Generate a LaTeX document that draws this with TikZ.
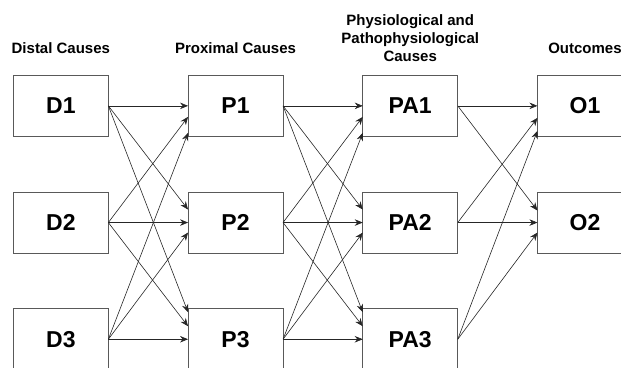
\documentclass[tikz,border=0pt]{standalone}
\usepackage{fontspec}
\setmainfont{Liberation Sans}
\usepackage{tikz}
\usetikzlibrary{arrows.meta,matrix,positioning}

\begin{document}
\begin{tikzpicture}[->,>={Stealth[length=8pt,width=6.5pt]}
  ,shorten >=0pt
  ,auto]
  \tikzstyle{stage}=[rectangle,draw=black!65,line width=0.7pt
  ,minimum width=95pt,minimum height=61pt,inner sep=0pt
  ,font=\bfseries\fontsize{23}{23}\selectfont]
  \tikzstyle{heading}=[inner sep=0pt,align=center
  ,font=\bfseries\fontsize{15}{18}\selectfont]
  \tikzstyle{link}=[black!85,line width=0.6pt]

  \useasboundingbox (0,0) rectangle (621pt,-367pt);

  \matrix (m) [anchor=north west,inner sep=0pt,outer sep=0pt
  ,row sep=55pt,column sep=79pt] at (13pt,-75pt)
  {
    % top row
    \node[stage](d1) {D1};	&
    \node[stage](p1) {P1};	&
    \node[stage](pa1) {PA1};	&
    \node[stage](o1) {O1};	\\
    % middle row
    \node[stage](d2) {D2};	&
    \node[stage](p2) {P2};	&
    \node[stage](pa2) {PA2};	&
    \node[stage](o2) {O2};	\\
    % bottom row, no outcome
    \node[stage](d3) {D3};	&
    \node[stage](p3) {P3};	&
    \node[stage](pa3) {PA3};	&
    \\
  };

  % column headings
  \node[heading,above=22pt of d1] (hd) {Distal Causes};
  \node[heading,above=22pt of p1] (hp) {Proximal Causes};
  \node[heading,above=14pt of pa1] (hpa) {Physiological and\\Pathophysiological\\Causes};
  \node[heading,above=22pt of o1] (ho) {Outcomes};

  % distal -> proximal
  \path[link]
  (d1.east) edge (p1.west)
  (d1.east) edge ([yshift=13pt]p2.west)
  (d1.east) edge ([yshift=27pt]p3.west)
  (d2.east) edge ([yshift=-11pt]p1.west)
  (d2.east) edge (p2.west)
  (d2.east) edge ([yshift=13pt]p3.west)
  (d3.east) edge ([yshift=-27pt]p1.west)
  (d3.east) edge ([yshift=-10pt]p2.west)
  (d3.east) edge (p3.west);
  % proximal -> physiological
  \path[link]
  (p1.east) edge (pa1.west)
  (p1.east) edge ([yshift=13pt]pa2.west)
  (p1.east) edge ([yshift=27pt]pa3.west)
  (p2.east) edge ([yshift=-11pt]pa1.west)
  (p2.east) edge (pa2.west)
  (p2.east) edge ([yshift=13pt]pa3.west)
  (p3.east) edge ([yshift=-27pt]pa1.west)
  (p3.east) edge ([yshift=-10pt]pa2.west)
  (p3.east) edge (pa3.west);
  % physiological -> outcomes
  \path[link]
  (pa1.east) edge (o1.west)
  (pa1.east) edge ([yshift=12pt]o2.west)
  (pa2.east) edge ([yshift=-12pt]o1.west)
  (pa2.east) edge (o2.west)
  (pa3.east) edge ([yshift=-25pt]o1.west)
  (pa3.east) edge ([yshift=-10pt]o2.west)
  ;

\end{tikzpicture}
\end{document}
